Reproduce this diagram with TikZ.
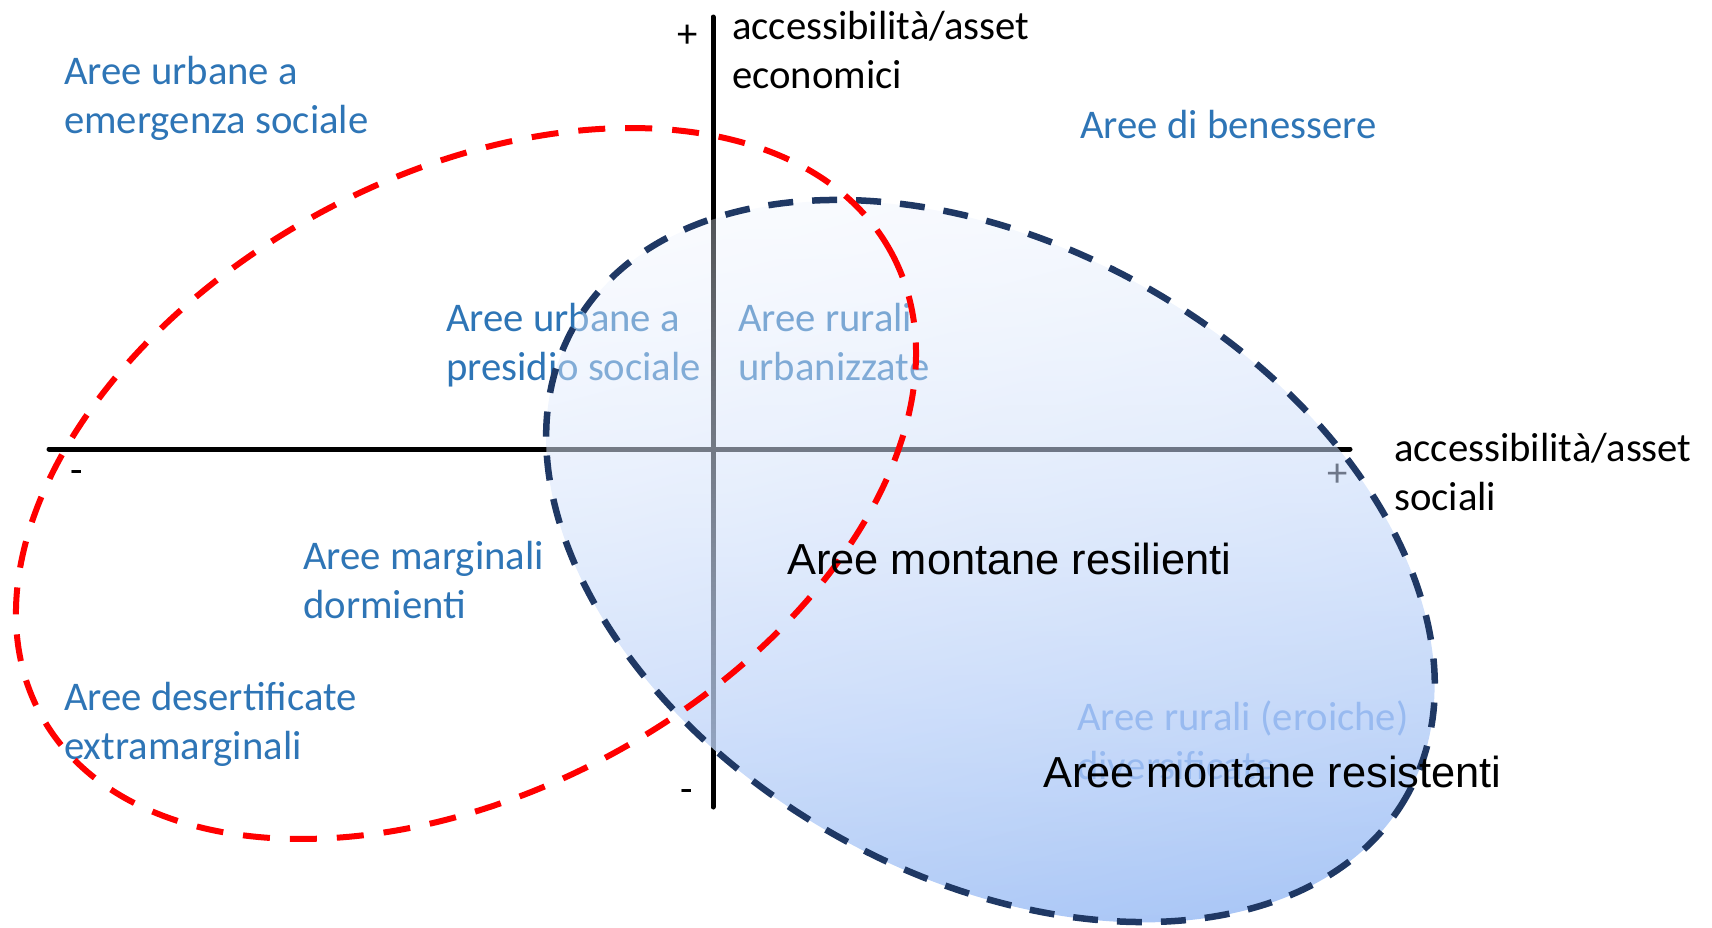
\documentclass[tikz,border=0pt]{standalone}
\usepackage{fontspec}
\setmainfont{Carlito}
\newfontfamily\arialf{Liberation Sans}
\usetikzlibrary{fadings}
\definecolor{txtblue}{RGB}{46,117,182}
\definecolor{navy}{RGB}{31,56,100}
\definecolor{fillA}{RGB}{238,243,253}
\definecolor{fillB}{RGB}{160,192,245}
\definecolor{faint}{RGB}{152,186,240}
\tikzfading[name=bluefade, top color=transparent!70, middle color=transparent!40, bottom color=transparent!5]
\begin{document}
\begin{tikzpicture}[x=1pt,y=-1pt,
  lbl/.style={font=\fontsize{40.7}{48.5}\selectfont, text=txtblue, align=left, anchor=base west, inner sep=0pt},
  blk/.style={font=\fontsize{40.7}{48.5}\selectfont, text=black, align=left, anchor=base west, inner sep=0pt},
  mont/.style={font=\arialf\fontsize{43.4}{52}\selectfont, text=black, anchor=base west, inner sep=0pt},
  sgn/.style={font=\fontsize{40.7}{40.7}\selectfont, text=black, inner sep=0pt, anchor=center},
  axisline/.style={line width=5pt, line cap=round, black},
  redell/.style={red, line width=6pt, dash pattern=on 27pt off 20pt},
  blueell/.style={navy, line width=6.5pt, dash pattern=on 25pt off 19pt}
]
\useasboundingbox (0,0) rectangle (1712,927);
% axes
\coordinate (hL) at (49,449);
\coordinate (hR) at (1350,449);
\coordinate (vT) at (713,17);
\coordinate (vB) at (713,807);
\draw[axisline] (hL) -- (hR);
\draw[axisline] (vT) -- (vB);
% signs
\node[sgn] (pT) at (688,36) {+};
\node[sgn] (mL) at (77,477) {-};
\node[sgn] (pR) at (1338,475) {+};
\node[sgn] (mB) at (687,796) {-};
% axis labels (anchor = baseline of last line)
\node[blk] (ay) at (732,88) {accessibilità/asset\\economici};
\node[blk] (ax) at (1394,510) {accessibilità/asset\\sociali};
% region labels
\node[lbl] (r1) at (64,133) {Aree urbane a\\emergenza sociale};
\node[lbl] (r2) at (1080,138) {Aree di benessere};
\node[lbl] (r3) at (446,380) {Aree urbane a\\presidio sociale};
\node[lbl] (r4) at (738,380) {Aree rurali\\urbanizzate};
\node[lbl] (r5) at (303,618) {Aree marginali\\dormienti};
\node[lbl] (r6) at (64,759) {Aree desertificate\\extramarginali};
% blue ellipse
\coordinate (bc) at (990.5,561);
\shade[top color=fillA, bottom color=fillB, shading angle=15, path fading=bluefade, rotate around={-29.4:(bc)}] (bc) ellipse [x radius=478, y radius=315];
\node[lbl, text=faint] (r7) at (1077,779) {Aree rurali (eroiche)\\diversificate};
\draw[blueell, rotate around={-29.4:(bc)}] (bc) ellipse [x radius=478, y radius=315];
% red ellipse
\coordinate (rc) at (466,483.5);
\draw[redell, rotate around={28.5:(rc)}] (rc) ellipse [x radius=484, y radius=307.5];
% mountain labels
\node[mont] (m1) at (787,574) {Aree montane resilienti};
\node[mont] (m2) at (1043,787) {Aree montane resistenti};
\end{tikzpicture}
\end{document}
